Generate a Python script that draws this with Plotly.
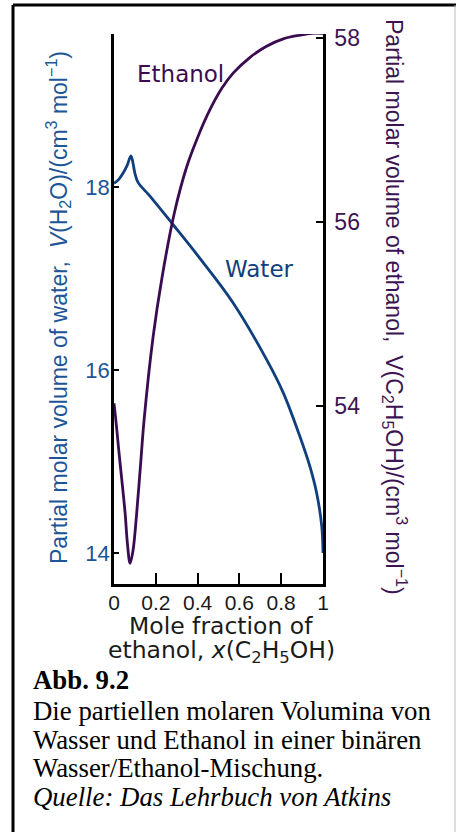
import plotly.graph_objects as go

# ---------------- data ----------------
x_water = [0.000, 0.022, 0.043, 0.062, 0.081, 0.091, 0.100, 0.115, 0.172, 0.282,
           0.411, 0.571, 0.731, 0.810, 0.890, 0.938, 0.970, 0.994, 1.000]
v_water = [18.04, 18.08, 18.15, 18.23, 18.34, 18.26, 18.15, 18.05, 17.90, 17.59,
           17.22, 16.73, 16.11, 15.75, 15.27, 14.94, 14.65, 14.29, 14.00]

x_ethanol = [0.000, 0.010, 0.021, 0.029, 0.053, 0.064, 0.077, 0.091, 0.108, 0.127,
             0.144, 0.187, 0.230, 0.289, 0.348, 0.404, 0.459, 0.515, 0.571, 0.651,
             0.730, 0.810, 0.890, 0.945, 1.000]
v_ethanol = [54.03, 53.82, 53.56, 53.38, 52.84, 52.51, 52.29, 52.43, 52.82, 53.36,
             53.85, 54.75, 55.40, 56.10, 56.60, 56.94, 57.22, 57.45, 57.62, 57.79,
             57.91, 57.99, 58.03, 58.05, 58.05]

x_tickvals = [0, 0.2, 0.4, 0.6, 0.8, 1]
x_ticktext = ["0", "0.2", "0.4", "0.6", "0.8", "1"]
water_ticks = [14, 16, 18]
ethanol_ticks = [54, 56, 58]

water_range = [13.661, 19.672]
ethanol_range = [52.065, 58.043]

caption_lines = [
    "<b>Abb. 9.2</b>",
    "Die partiellen molaren Volumina von",
    "Wasser und Ethanol in einer binären",
    "Wasser/Ethanol-Mischung.",
    "<i>Quelle: Das Lehrbuch von Atkins</i>",
]

# ---------------- layout helpers ----------------
W, H = 456, 832
L, R, T, B = 114, 133, 34, 248
PW, PH = W - L - R, H - T - B


def px(xpix):
    return (xpix - L) / PW


def py(ypix):
    return 1 - (ypix - T) / PH


BLUE_LINE = "#0f3f7c"
BLUE_TEXT = "#1d5597"
PURPLE_LINE = "#3a0b50"
PURPLE_TEXT = "#3d1452"
SANS = "Arial, 'Liberation Sans', Helvetica, sans-serif"
WIDE = "'DejaVu Sans', Verdana, sans-serif"
SERIF = "'Times New Roman', 'Liberation Serif', serif"

fig = go.Figure()
fig.add_trace(go.Scatter(
    x=x_water, y=v_water, mode="lines", yaxis="y",
    line=dict(color=BLUE_LINE, width=2.8, shape="spline", smoothing=1.0),
    hoverinfo="skip", showlegend=False))
fig.add_trace(go.Scatter(
    x=x_ethanol, y=v_ethanol, mode="lines", yaxis="y2",
    line=dict(color=PURPLE_LINE, width=2.8, shape="spline", smoothing=1.0),
    hoverinfo="skip", showlegend=False))

axis_common = dict(showgrid=False, zeroline=False, showline=True,
                   linecolor="black", linewidth=2.5, ticks="inside",
                   tickcolor="black", tickwidth=2, fixedrange=True)

annotations = [
    dict(text="Ethanol", x=px(180), y=py(74), font=dict(size=23, color=PURPLE_LINE, family=WIDE)),
    dict(text="Water", x=px(259), y=py(269), font=dict(size=23, color=BLUE_LINE, family=WIDE)),
    dict(text="Partial molar volume of water,  <i>V</i>(H<sub>2</sub>O)/(cm<sup>3</sup> mol<sup>−1</sup>)",
         x=px(58), y=py(308), textangle=-90,
         font=dict(size=23, color=BLUE_TEXT, family=SANS)),
    dict(text="Partial molar volume of ethanol,  V(C<sub>2</sub>H<sub>5</sub>OH)/(cm<sup>3</sup> mol<sup>−1</sup>)",
         x=px(395), y=py(307), textangle=90,
         font=dict(size=23, color=PURPLE_TEXT, family=SANS)),
    dict(text="Mole fraction of", x=px(221), y=py(626),
         font=dict(size=23.5, color="#1a1a1a", family=WIDE)),
    dict(text="ethanol, <i>x</i>(C<sub>2</sub>H<sub>5</sub>OH)", x=px(221), y=py(651),
         font=dict(size=23.5, color="#1a1a1a", family=WIDE)),
]
for line, yc in zip(caption_lines, [680, 711, 740, 768, 797]):
    annotations.append(dict(text=line, x=px(31), y=py(yc), xanchor="left",
                            font=dict(size=26.8, color="black", family=SERIF)))
for a in annotations:
    a.setdefault("xanchor", "center")
    a.update(xref="paper", yref="paper", yanchor="middle", showarrow=False)

shapes = [
    dict(type="line", xref="paper", yref="paper", x0=px(13), x1=px(456), y0=py(5), y1=py(5),
         line=dict(color="black", width=3)),
    dict(type="line", xref="paper", yref="paper", x0=px(13), x1=px(13), y0=py(5), y1=py(840),
         line=dict(color="black", width=3)),
    dict(type="line", xref="paper", yref="paper", x0=px(455), x1=px(455), y0=py(5), y1=py(840),
         line=dict(color="#bbbbbb", width=1)),
]

fig.update_layout(
    width=W, height=H,
    margin=dict(l=L, r=R, t=T, b=B, pad=0),
    paper_bgcolor="white", plot_bgcolor="white",
    xaxis=dict(range=[0, 1], tickvals=x_tickvals, ticktext=x_ticktext, ticklen=11,
               ticklabelstandoff=-2,
               tickfont=dict(size=21, color="#1a1a1a", family=SANS), **axis_common),
    yaxis=dict(range=water_range, tickvals=water_ticks, ticklen=5, ticklabelstandoff=-3,
               tickfont=dict(size=22, color=BLUE_TEXT, family=SANS), **axis_common),
    yaxis2=dict(range=ethanol_range, tickvals=ethanol_ticks, ticklen=7, overlaying="y",
                side="right", ticklabelstandoff=4,
                tickfont=dict(size=23, color=PURPLE_TEXT, family=SANS),
                **axis_common),
    annotations=annotations,
    shapes=shapes,
    showlegend=False,
)

fig.write_html("out.html", config={"displayModeBar": False},
               post_script="document.body.style.margin='0';document.body.style.overflow='hidden';")
